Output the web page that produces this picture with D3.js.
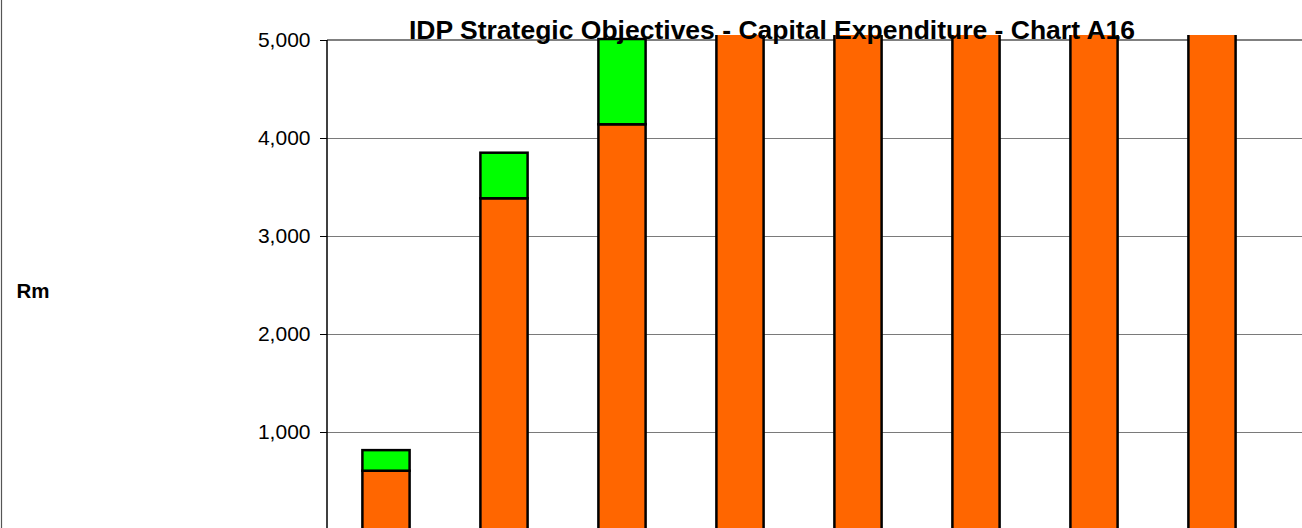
<!DOCTYPE html>
<html>
<head>
<meta charset="utf-8">
<script src="https://cdn.jsdelivr.net/npm/d3@7"></script>
<style>
  html, body { margin: 0; padding: 0; background: #fff; }
  svg { display: block; }
  text { font-family: "Liberation Sans", Arial, sans-serif; }
</style>
</head>
<body>
<svg id="chart" width="1302" height="528"></svg>
<script>
// ---- data ----
const categories = ["2006/07", "2007/08", "2008/09", "2009/10", "2010/11", "2011/12", "2012/13", "2013/14"];
const seriesNames = ["Objective 1", "Objective 2"];
const seriesOrange = [605, 3385, 4140, 5600, 5900, 6200, 6400, 6700];
const seriesGreen  = [210, 465, 870, 900, 950, 1000, 1050, 1100];
const yTicks = [1000, 2000, 3000, 4000, 5000];
const titleText = "IDP Strategic Objectives - Capital Expenditure - Chart A16";
const yLabel = "Rm";
const colors = ["#FF6600", "#00FF00"];

// ---- layout ----
const W = 1302, H = 528;
const plot = { left: 327, top: 40, right: 1302, bottom: 530 };

const svg = d3.select("#chart");

const x = d3.scaleBand()
  .domain(categories)
  .range([plot.left, plot.left + 118 * categories.length])
  .paddingInner(0.6)
  .paddingOuter(0.3);

const y = d3.scaleLinear().domain([0, 5000]).range([plot.bottom, plot.top]);

// left chart border
svg.append("line")
  .attr("x1", 1.5).attr("x2", 1.5).attr("y1", 0).attr("y2", H)
  .attr("stroke", "#555").attr("stroke-width", 1.2);

// gridlines
svg.append("g")
  .selectAll("line")
  .data(yTicks.filter(d => d !== 5000))
  .join("line")
  .attr("x1", plot.left).attr("x2", plot.right)
  .attr("y1", d => Math.round(y(d)) + 0.5).attr("y2", d => Math.round(y(d)) + 0.5)
  .attr("stroke", "#7a7a7a").attr("stroke-width", 1);

// plot top border
svg.append("line")
  .attr("x1", plot.left).attr("x2", plot.right)
  .attr("y1", y(5000)).attr("y2", y(5000))
  .attr("stroke", "#808080").attr("stroke-width", 2);

// stacked bars
const rows = categories.map((c, i) => ({ cat: c, a: seriesOrange[i], b: seriesGreen[i] }));
const stack = d3.stack().keys(["a", "b"])(rows);

svg.append("defs").append("clipPath").attr("id", "clip")
  .append("rect").attr("x", plot.left).attr("y", 35).attr("width", W - plot.left).attr("height", H);

const barG = svg.append("g").attr("clip-path", "url(#clip)");
stack.forEach((layer, li) => {
  barG.append("g")
    .selectAll("rect")
    .data(layer)
    .join("rect")
    .attr("x", d => x(d.data.cat))
    .attr("width", x.bandwidth())
    .attr("y", d => y(d[1]))
    .attr("height", d => y(d[0]) - y(d[1]))
    .attr("fill", colors[li])
    .attr("stroke", "#000")
    .attr("stroke-width", 2.5);
});

// y axis
const yAxis = d3.axisLeft(y)
  .tickValues(yTicks)
  .tickSize(7)
  .tickPadding(9.5)
  .tickFormat(d3.format(","));
const gy = svg.append("g").attr("transform", `translate(${plot.left},0)`).call(yAxis);
gy.select(".domain").attr("stroke", "#000").attr("stroke-width", 1.5)
  .attr("d", `M0,${plot.top}V${plot.bottom}`);
gy.selectAll(".tick line").attr("stroke", "#000").attr("stroke-width", 1);
gy.selectAll(".tick text")
  .attr("font-family", '"Liberation Sans", Arial, sans-serif')
  .attr("font-size", 21).attr("fill", "#000");

// y label
svg.append("text")
  .attr("x", 16.5).attr("y", 298)
  .attr("font-size", 20.5).attr("font-weight", "bold")
  .text(yLabel);

// title
svg.append("text")
  .attr("x", 772).attr("y", 39)
  .attr("text-anchor", "middle")
  .attr("font-size", 26.5).attr("font-weight", "bold")
  .text(titleText);
</script>
</body>
</html>
